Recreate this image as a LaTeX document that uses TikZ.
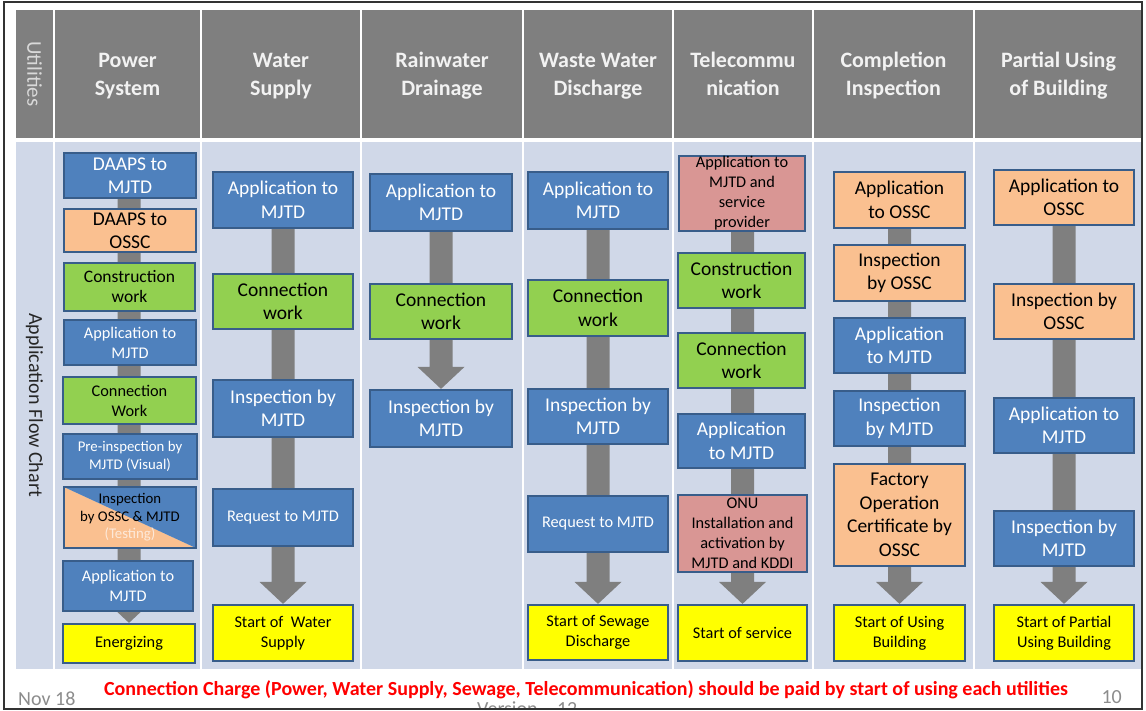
\documentclass[tikz,border=0pt]{standalone}
\usepackage{fontspec}
\setmainfont{Carlito}
\usetikzlibrary{calc}
\definecolor{bfill}{HTML}{4F81BD}
\definecolor{bline}{HTML}{385D8A}
\definecolor{ofill}{HTML}{FAC090}
\definecolor{gfill}{HTML}{92D050}
\definecolor{pfill}{HTML}{D99694}
\definecolor{yfill}{HTML}{FFFF00}
\definecolor{hgray}{HTML}{7F7F7F}
\definecolor{bodyc}{HTML}{D0D8E8}
\definecolor{agray}{HTML}{7F7F7F}
\definecolor{foot}{HTML}{8C8C8C}
\definecolor{testc}{HTML}{FDE9D9}
\pgfdeclarelayer{bg}
\pgfdeclarelayer{arr}
\pgfsetlayers{bg,arr,main}
\tikzset{
  fA/.style={font=\fontsize{19.5}{23.5}\selectfont},
  fB/.style={font=\fontsize{16.3}{20}\selectfont},
  fC/.style={font=\fontsize{14.8}{17.5}\selectfont},
  fD/.style={font=\fontsize{17.5}{20}\selectfont},
  box/.style={draw=bline, line width=2.2pt, align=center, inner sep=0pt},
  bbox/.style={box, fill=bfill, text=white},
  obox/.style={box, fill=ofill, text=black},
  gbox/.style={box, fill=gfill, text=black},
  pbox/.style={box, fill=pfill, text=black},
  ybox/.style={box, fill=yfill, text=black},
  split/.style={box, text=black, path picture={
     \fill[ofill] (path picture bounding box.north west) -- (path picture bounding box.south east) -- (path picture bounding box.south west) -- cycle;
     \fill[bfill] (path picture bounding box.north west) -- (path picture bounding box.north east) -- (path picture bounding box.south east) -- cycle;}},
  hdr/.style={fill=hgray, text=white!95!black, align=center, inner sep=0pt,
     font=\bfseries\fontsize{22}{28}\selectfont},
  bodycell/.style={fill=bodyc, inner sep=0pt}
}
\newcommand\bx[8]{\node[#2,#8,minimum width={#5-#3-2},minimum height={#6-#4-2}] (#1) at ({(#3+#5)/2},{(#4+#6)/2}) {#7};}
\newcommand\hcell[5]{\node[hdr,minimum width={#3-#2},minimum height=128] (#1) at ({(#2+#3)/2},74) {};
  \node[hdr, fill=none, anchor=base] (#1t) at ({(#2+#3)/2},96) {#4};
  \begin{pgfonlayer}{bg}\node[bodycell,minimum width={#3-#2},minimum height=527] (#5) at ({(#2+#3)/2},405.5) {};\end{pgfonlayer}}
\newcommand\colarrow[2]{\begin{pgfonlayer}{arr}\fill[agray] ($(#2.north |- #1.center)+(-11.5,0)$) -- ($(#2.north)+(-11.5,-22)$) -- ($(#2.north)+(-23.5,-22)$) -- (#2.north) -- ($(#2.north)+(23.5,-22)$) -- ($(#2.north)+(11.5,-22)$) -- ($(#2.north |- #1.center)+(11.5,0)$) -- cycle;\end{pgfonlayer}}
\begin{document}
\begin{tikzpicture}[x=1pt,y=-1pt]
\useasboundingbox (0,0) rectangle (1146,711);
\begin{pgfonlayer}{bg}\fill[white] (0,0) rectangle (1146,711);\end{pgfonlayer}
% header and body
\node[hdr,minimum width=37,minimum height=128] (h0) at (34.5,74) {};
\node[rotate=-90, text=white!85!black, font=\fontsize{21}{24}\selectfont] (ut) at (h0.center) {Utilities};
\begin{pgfonlayer}{bg}\node[bodycell,minimum width=37,minimum height=527] (b0) at (34.5,405.5) {};\end{pgfonlayer}
\node[rotate=-90, text=black!85, font=\fontsize{20}{24}\selectfont] (afc) at (34.5,405) {Application Flow Chart};
\hcell{h1}{55}{200}{Power\\System}{b1}
\hcell{h2}{202}{360}{Water\\Supply}{b2}
\hcell{h3}{362}{522}{Rainwater\\Drainage}{b3}
\hcell{h4}{524}{672}{Waste Water\\Discharge}{b4}
\hcell{h5}{674}{812}{Telecommu\\nication}{b5}
\hcell{h6}{814}{973}{Completion\\Inspection}{b6}
\hcell{h7}{975}{1142}{Partial Using\\of Building}{b7}
% Power
\bx{p1}{bbox}{63}{152}{197}{199}{DAAPS to\\MJTD}{fA}
\bx{p2}{obox}{63}{208}{197}{253}{DAAPS to\\OSSC}{fA}
\bx{p3}{gbox}{63}{262}{196}{312}{Construction\\work}{fD}
\bx{p4}{bbox}{63}{319}{197}{366}{Application to\\MJTD}{fB}
\bx{p5}{gbox}{62}{376}{197}{425}{Connection\\Work}{fB}
\bx{p6}{bbox}{62}{433}{198}{480}{Pre-inspection by\\MJTD (Visual)}{fC}
\bx{p7}{split}{63}{486}{197}{549}{Inspection\\by OSSC \& MJTD\\{\color{testc}(Testing)}}{fC}
\bx{p8}{bbox}{62}{560}{194}{612}{Application to\\MJTD}{fB}
\bx{p9}{ybox}{62}{623}{196}{664}{Energizing}{fB}
\colarrow{p1}{p9}
% Water
\bx{w1}{bbox}{212}{171}{354}{229}{Application to\\MJTD}{fA}
\bx{w2}{gbox}{212}{273}{354}{330}{Connection\\work}{fA}
\bx{w3}{bbox}{212}{379}{354}{438}{Inspection by\\MJTD}{fA}
\bx{w4}{bbox}{212}{488}{354}{547}{Request to MJTD}{fB}
\bx{w5}{ybox}{212}{604}{354}{662}{Start of~ Water\\Supply}{fB}
\colarrow{w1}{w5}
% Rainwater
\bx{r1}{bbox}{369}{173}{513}{232}{Application to\\MJTD}{fA}
\bx{r2}{gbox}{369}{283}{513}{340}{Connection\\work}{fA}
\bx{r3}{bbox}{369}{389}{513}{448}{Inspection by\\MJTD}{fA}
\colarrow{r1}{r3}
% Waste water
\bx{ww1}{bbox}{527}{171}{669}{230}{Application to\\MJTD}{fA}
\bx{ww2}{gbox}{527}{279}{669}{337}{Connection\\work}{fA}
\bx{ww3}{bbox}{527}{388}{669}{445}{Inspection by\\MJTD}{fA}
\bx{ww4}{bbox}{527}{495}{669}{553}{Request to MJTD}{fB}
\bx{ww5}{ybox}{527}{604}{669}{661}{Start of Sewage\\Discharge}{fB}
\colarrow{ww1}{ww5}
% Telecom
\bx{t1}{pbox}{678}{155}{806}{232}{Application to\\MJTD and\\service\\provider}{fB}
\bx{t2}{gbox}{677}{252}{806}{309}{Construction\\work}{fA}
\bx{t3}{gbox}{677}{332}{806}{389}{Connection\\work}{fA}
\bx{t4}{bbox}{677}{413}{806}{469}{Application\\to MJTD}{fA}
\bx{t5}{pbox}{677}{494}{808}{573}{ONU\\Installation and\\activation by\\MJTD and KDDI}{fB}
\bx{t6}{ybox}{677}{604}{808}{662}{Start of service}{fB}
\colarrow{t1}{t6}
% Completion
\bx{c1}{obox}{833}{171}{966}{229}{Application\\to OSSC}{fA}
\bx{c2}{obox}{833}{244}{966}{302}{Inspection\\by OSSC}{fA}
\bx{c3}{bbox}{833}{317}{966}{374}{Application\\to MJTD}{fA}
\bx{c4}{bbox}{833}{390}{966}{447}{Inspection\\by MJTD}{fA}
\bx{c5}{obox}{833}{463}{966}{567}{Factory\\Operation\\Certificate by\\OSSC}{fA}
\bx{c6}{ybox}{833}{604}{966}{662}{Start of Using\\Building}{fB}
\colarrow{c1}{c6}
% Partial
\bx{u1}{obox}{993}{169}{1135}{226}{Application to\\OSSC}{fA}
\bx{u2}{obox}{993}{283}{1135}{340}{Inspection by\\OSSC}{fA}
\bx{u3}{bbox}{993}{397}{1135}{454}{Application to\\MJTD}{fA}
\bx{u4}{bbox}{993}{510}{1135}{567}{Inspection by\\MJTD}{fA}
\bx{u5}{ybox}{993}{604}{1135}{662}{Start of Partial\\Using Building}{fB}
\colarrow{u1}{u5}
% footer
\node[anchor=base west, text=foot, font=\fontsize{20}{24}\selectfont, inner sep=0pt] (nov) at (18,705) {Nov 18};
\node[anchor=base east, text=foot, font=\fontsize{20}{24}\selectfont, inner sep=0pt] (pg) at (1122,703) {10};
\node[text=red, font=\bfseries\fontsize{20}{24}\selectfont, inner sep=0pt] (note) at (586,690) {Connection Charge (Power, Water Supply, Sewage, Telecommunication) should be paid by start of using each utilities};
\begin{scope}
\clip (0,0) rectangle (1146,708);
\node[anchor=north west, text=foot, font=\fontsize{20}{24}\selectfont, inner sep=0pt] (ver) at (477,702) {Version\,\,-\,\,12};
\end{scope}
\draw[black!80, line width=1.6pt] (4,2) rectangle (1142,709);
\end{tikzpicture}
\end{document}
